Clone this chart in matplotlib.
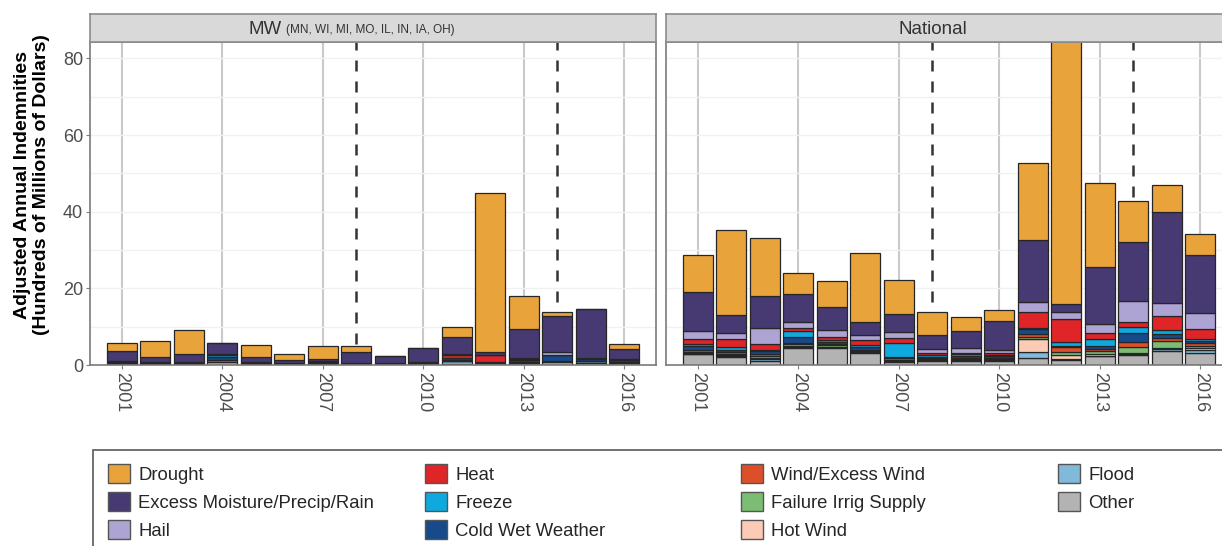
import numpy as np
import matplotlib
matplotlib.use('Agg')
from matplotlib import pyplot as plt
from matplotlib.patches import Patch, Rectangle

plt.rcParams['font.family'] = ['Liberation Sans', 'DejaVu Sans']

years = np.arange(2001, 2017)

# causes, bottom of the stack first
causes = ['Other', 'Flood', 'Hot Wind', 'Failure Irrig Supply', 'Wind/Excess Wind',
          'Cold Wet Weather', 'Freeze', 'Heat', 'Hail',
          'Excess Moisture/Precip/Rain', 'Drought']
colors = ['#B3B3B3', '#80B9DA', '#FCCBB5', '#7CBD74', '#DD4F29',
          '#174A8A', '#0EAADF', '#DF2528', '#ADA4D3', '#473A73', '#E9A33B']

# Midwest, hundreds of millions of dollars
mw_other   = [0.3, 0.2, 0.2, 0.8, 0.2, 0.2, 0.3, 0.2, 0.2, 0.3, 0.3, 0.4, 0.6, 0.8, 0.6, 0.5]
mw_flood   = [0, 0, 0, 0.4, 0, 0, 0, 0, 0, 0, 0.8, 0, 0, 0.2, 0.4, 0]
mw_hotwind = [0] * 16
mw_irrig   = [0] * 16
mw_wind    = [0.2, 0, 0, 0, 0, 0, 0.2, 0, 0, 0, 0.3, 0.3, 0.2, 0, 0, 0.3]
mw_coldwet = [0.3, 0.2, 0.3, 1.0, 0.3, 0.2, 0.3, 0.2, 0.2, 0.3, 0.3, 0.2, 0.4, 1.5, 0.5, 0.4]
mw_freeze  = [0, 0, 0, 0.3, 0, 0, 0, 0, 0, 0, 0, 0, 0.2, 0.2, 0, 0]
mw_heat    = [0, 0, 0, 0, 0, 0, 0, 0, 0, 0, 0.8, 1.6, 0.2, 0, 0, 0]
mw_hail    = [0.2, 0.3, 0.3, 0.3, 0.2, 0, 0.2, 0.2, 0.2, 0.2, 0.5, 0.2, 0.3, 0.8, 0.2, 0.3]
mw_excess  = [2.6, 1.5, 2.1, 3.0, 1.4, 0.8, 0.6, 2.7, 1.8, 3.6, 4.4, 0.6, 7.5, 9.4, 12.9, 2.7]
mw_drought = [2.2, 4.1, 6.3, 0, 3.0, 1.8, 3.4, 1.7, 0, 0, 2.6, 41.7, 8.6, 1.0, 0, 1.2]

# National
nat_other   = [2.8, 2.2, 1.1, 4.4, 4.5, 3.1, 0.8, 1.1, 1.1, 1.0, 1.9, 1.3, 2.3, 2.6, 3.6, 3.1]
nat_flood   = [0.2, 0.1, 0.4, 0.3, 0.2, 0.2, 0.3, 0.1, 0.2, 0.2, 1.4, 0.2, 0.1, 0.4, 0.6, 0.9]
nat_hotwind = [0.2, 0.2, 0.3, 0.2, 0.1, 0.1, 0.1, 0.1, 0.1, 0.1, 3.6, 1.0, 0.6, 0.2, 0.2, 0.4]
nat_irrig   = [0.3, 0.4, 0.5, 0.5, 0.3, 0.2, 0.2, 0.2, 0.1, 0.2, 0.3, 0.9, 0.7, 1.6, 1.9, 0.6]
nat_wind    = [0.5, 0.5, 0.6, 0.4, 0.4, 0.4, 0.4, 0.3, 0.2, 0.3, 0.8, 1.3, 0.6, 1.3, 0.7, 0.8]
nat_coldwet = [0.9, 0.5, 0.7, 1.6, 0.6, 0.6, 0.4, 0.4, 0.6, 0.6, 1.3, 0.2, 0.7, 2.3, 1.1, 0.4]
nat_freeze  = [0.6, 0.7, 0.3, 1.5, 0.3, 0.5, 3.5, 0.3, 0.5, 0.2, 0.3, 1.1, 1.8, 1.5, 1.1, 0.5]
nat_heat    = [1.2, 2.2, 1.6, 0.7, 1.0, 1.4, 1.4, 0.6, 0.3, 0.5, 4.3, 5.9, 1.5, 1.4, 3.6, 2.6]
nat_hail    = [2.3, 1.5, 4.1, 1.6, 1.8, 1.2, 1.4, 1.0, 1.3, 0.8, 2.6, 1.9, 2.3, 5.5, 3.5, 4.2]
nat_excess  = [10.0, 4.8, 8.4, 7.4, 5.9, 3.4, 4.8, 3.7, 4.6, 7.6, 16.2, 2.2, 15.1, 15.4, 23.7, 15.3]
nat_drought = [9.8, 22.2, 15.2, 5.4, 6.9, 18.2, 8.9, 6.1, 3.4, 2.9, 20.1, 72.0, 21.9, 10.7, 7.1, 5.4]

mw = [mw_other, mw_flood, mw_hotwind, mw_irrig, mw_wind, mw_coldwet,
      mw_freeze, mw_heat, mw_hail, mw_excess, mw_drought]
nat = [nat_other, nat_flood, nat_hotwind, nat_irrig, nat_wind, nat_coldwet,
       nat_freeze, nat_heat, nat_hail, nat_excess, nat_drought]

xticks = [2001, 2004, 2007, 2010, 2013, 2016]
policy_years = [2008, 2014]

W, H = 1222, 546
fig = plt.figure(figsize=(W / 100, H / 100), dpi=100)


def panel(x0, stacks, title, subtitle=None):
    ax = fig.add_axes([x0 / W, 1 - 365 / H, 566 / W, 323 / H])
    ax.set_xlim(2000.05, 2016.95)
    ax.set_ylim(0, 84.3)
    for x in xticks:
        ax.axvline(x, color='#C9C9C9', lw=1.5, zorder=0)
    for y in range(10, 90, 10):
        ax.axhline(y, color='#F1F1F1', lw=1, zorder=0)
    for x in policy_years:
        ax.axvline(x, color='#333333', lw=1.8, ls=(0, (4.4, 4)), zorder=1)
    bottom = np.zeros(len(years))
    for vals, c in zip(stacks, colors):
        vals = np.array(vals, dtype=float)
        ax.bar(years, vals, bottom=bottom, width=0.9, color=c,
               edgecolor='#262626', lw=0.9, zorder=2)
        bottom += vals
    ax.set_xticks(xticks)
    ax.set_xticklabels([str(x) for x in xticks], rotation=270, fontsize=13,
                       color='#4D4D4D')
    ax.set_yticks([0, 20, 40, 60, 80])
    ax.tick_params(axis='both', color='#7F7F7F', length=3, labelsize=13,
                   labelcolor='#4D4D4D', pad=2)
    for s in ax.spines.values():
        s.set_color('#7A7A7A')
        s.set_linewidth(1.2)

    strip = fig.add_axes([x0 / W, 1 - 42 / H, 566 / W, 28 / H])
    strip.set_facecolor('#D9D9D9')
    strip.set_xticks([])
    strip.set_yticks([])
    for s in strip.spines.values():
        s.set_color('#8C8C8C')
        s.set_linewidth(1.2)
    if subtitle:
        strip.text(0.339, 0.45, title, transform=strip.transAxes,
                   ha='right', va='center', fontsize=13.5, color='#333333')
        strip.text(0.347, 0.42, subtitle, transform=strip.transAxes,
                   ha='left', va='center', fontsize=8.5, color='#333333')
    else:
        strip.text(0.472, 0.45, title, transform=strip.transAxes,
                   ha='center', va='center', fontsize=13.5, color='#333333')
    return ax


ax1 = panel(90, mw, 'MW', '(MN, WI, MI, MO, IL, IN, IA, OH)')
ax2 = panel(666, nat, 'National')
ax2.tick_params(axis='y', left=False, labelleft=False)

fig.text(32 / W, 1 - 185 / H,
         'Adjusted Annual Indemnities\n(Hundreds of Millions of Dollars)',
         rotation=90, ha='center', va='center', fontsize=14, fontweight='bold',
         linespacing=1.15)

# legend box runs off the right and bottom edges
fig.patches.append(Rectangle((93 / W, -0.2), 1.2, 0.2 + 96 / H,
                             transform=fig.transFigure, fill=False,
                             edgecolor='#666666', lw=1.3))

legend_order = list(reversed(range(len(causes))))
columns = [legend_order[0:3], legend_order[3:6], legend_order[6:9], legend_order[9:11]]
col_x = [108, 425, 741, 1058]
for xs, idx in zip(col_x, columns):
    handles = [Patch(facecolor=colors[i], edgecolor='#555555', lw=1) for i in idx]
    fig.legend(handles, [causes[i] for i in idx], loc='upper left',
               bbox_to_anchor=(xs / W, 1 - 464 / H), frameon=False,
               fontsize=13.3, handlelength=1.2, handleheight=1.2,
               handletextpad=0.45, labelspacing=0.45, borderpad=0,
               borderaxespad=0, labelcolor='#262626')

fig.savefig('out.png', dpi=100)
